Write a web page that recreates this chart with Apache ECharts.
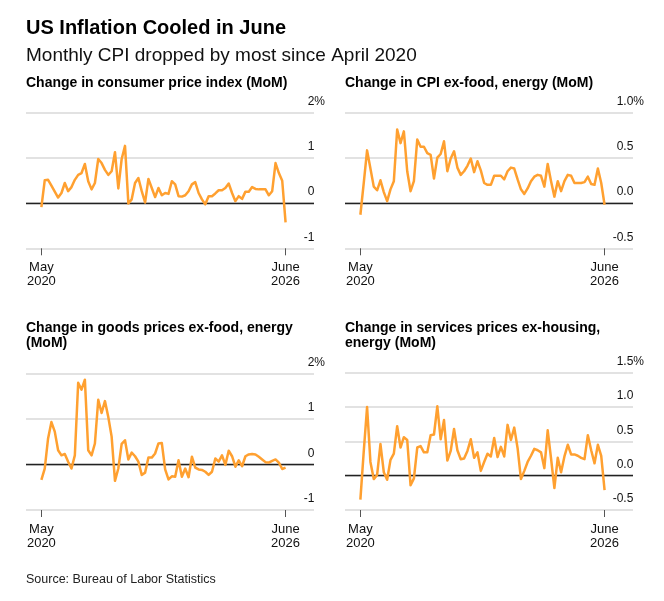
<!DOCTYPE html>
<html>
<head>
<meta charset="utf-8">
<script src="https://cdn.jsdelivr.net/npm/echarts@6/dist/echarts.min.js"></script>
<style>
html,body{margin:0;padding:0;background:#fff;}
#c{width:664px;height:601px;}
</style>
</head>
<body>
<div id="c"></div>
<script>
// Months (categories)
var months = [
 "2020-05","2020-06","2020-07","2020-08","2020-09","2020-10","2020-11","2020-12",
 "2021-01","2021-02","2021-03","2021-04","2021-05","2021-06","2021-07","2021-08","2021-09","2021-10","2021-11","2021-12",
 "2022-01","2022-02","2022-03","2022-04","2022-05","2022-06","2022-07","2022-08","2022-09","2022-10","2022-11","2022-12",
 "2023-01","2023-02","2023-03","2023-04","2023-05","2023-06","2023-07","2023-08","2023-09","2023-10","2023-11","2023-12",
 "2024-01","2024-02","2024-03","2024-04","2024-05","2024-06","2024-07","2024-08","2024-09","2024-10","2024-11","2024-12",
 "2025-01","2025-02","2025-03","2025-04","2025-05","2025-06","2025-07","2025-08","2025-09","2025-10","2025-11","2025-12",
 "2026-01","2026-02","2026-03","2026-04","2026-05","2026-06"
];
var xTickLabels = ["May\n2020", "June\n2026"];

// Change in consumer price index (MoM)
var cpi = [-0.09,0.50,0.51,0.38,0.25,0.12,0.22,0.44,0.26,0.35,
 0.51,0.62,0.66,0.86,0.48,0.30,0.44,0.97,0.88,0.73,
 0.62,0.70,1.12,0.32,0.97,1.26,-0.01,0.08,0.44,0.55,
 0.26,0.01,0.53,0.33,0.13,0.33,0.17,0.22,0.20,0.48,
 0.41,0.15,0.14,0.17,0.26,0.41,0.46,0.22,0.08,-0.03,
 0.15,0.15,0.21,0.28,0.28,0.33,0.43,0.22,0.04,0.15,
 0.09,0.25,0.25,0.35,0.31,0.30,0.30,0.30,0.17,0.26,
 0.88,0.66,0.49,-0.43];

// Change in CPI ex-food, energy (MoM)
var core = [-0.13,0.22,0.58,0.38,0.18,0.14,0.25,0.12,0.02,0.15,
 0.24,0.81,0.66,0.79,0.35,0.13,0.24,0.70,0.62,0.62,
 0.55,0.53,0.27,0.50,0.54,0.68,0.35,0.49,0.57,0.39,
 0.31,0.35,0.41,0.49,0.34,0.46,0.36,0.22,0.20,0.20,
 0.30,0.30,0.30,0.26,0.35,0.39,0.38,0.26,0.15,0.10,
 0.16,0.24,0.29,0.31,0.30,0.18,0.43,0.24,0.07,0.24,
 0.13,0.24,0.31,0.30,0.22,0.22,0.22,0.23,0.29,0.21,
 0.20,0.38,0.22,-0.02];

// Change in goods prices ex-food, energy (MoM)
var goods = [-0.34,-0.09,0.57,0.93,0.72,0.31,0.20,0.23,0.06,-0.09,
 0.20,1.79,1.64,1.86,0.31,0.20,0.46,1.42,1.13,1.39,
 1.04,0.61,-0.36,-0.09,0.45,0.53,0.11,0.26,0.18,0.06,
 -0.23,-0.18,0.15,0.15,0.24,0.46,0.47,-0.11,-0.33,-0.26,
 -0.27,0.09,-0.27,-0.09,-0.28,0.17,-0.07,-0.11,-0.12,-0.16,
 -0.23,-0.16,0.13,0.06,0.20,-0.01,0.30,0.18,-0.05,0.09,
 -0.04,0.18,0.22,0.23,0.22,0.17,0.11,0.05,0.04,0.08,
 0.11,0.04,-0.10,-0.07];

// Change in services prices ex-housing, energy (MoM)
var services = [-0.35,0.35,1.00,0.20,-0.05,0.01,0.46,0.05,-0.06,0.23,
 0.32,0.72,0.41,0.56,0.52,-0.14,-0.04,0.41,0.43,0.34,
 0.34,0.59,0.60,1.01,0.53,0.81,0.22,0.36,0.68,0.37,
 0.24,0.25,0.36,0.53,0.26,0.34,0.07,0.20,0.32,0.28,
 0.55,0.27,0.42,0.28,0.74,0.52,0.70,0.40,-0.05,0.07,
 0.20,0.29,0.39,0.37,0.34,0.11,0.66,0.25,-0.18,0.26,
 0.05,0.28,0.45,0.31,0.31,0.29,0.26,0.24,0.59,0.37,
 0.18,0.45,0.29,-0.21];

// Y tick labels
var yTicks1 = ["-1", "0", "1", "2"];
var yTicks2 = ["-0.5", "0.0", "0.5", "1.0"];
var yTicks3 = ["-1", "0", "1", "2"];
var yTicks4 = ["-0.5", "0.0", "0.5", "1.0", "1.5"];

var panelTitles = [
  "Change in consumer price index (MoM)",
  "Change in CPI ex-food, energy (MoM)",
  "Change in goods prices ex-food, energy\n(MoM)",
  "Change in services prices ex-housing,\nenergy (MoM)"
];

var FONT = "'Liberation Sans', Arial, Helvetica, sans-serif";
var LINE = '#ffa030';
var GRIDC = '#d9d9d9';

var panels = [
  {data: cpi, ticks: yTicks1, min: -1, max: 2, interval: 1, left: 26, top: 112.3, height: 136},
  {data: core, ticks: yTicks2, min: -0.5, max: 1, interval: 0.5, left: 345, top: 112.3, height: 136},
  {data: goods, ticks: yTicks3, min: -1, max: 2, interval: 1, left: 26, top: 373.3, height: 136.7},
  {data: services, ticks: yTicks4, min: -0.5, max: 1.5, interval: 0.5, left: 345, top: 372.7, height: 137.3}
];

var grids = [], xAxes = [], yAxes = [], series = [];
panels.forEach(function (p, k) {
  grids.push({left: p.left, top: p.top, width: 288, height: p.height, containLabel: false});
  xAxes.push({
    type: 'value', gridIndex: k, min: -4.6, max: 81.5, position: 'bottom',
    axisLine: {show: false, onZero: false},
    splitLine: {show: false},
    axisTick: {show: true, customValues: [0, months.length - 1], length: 7,
      lineStyle: {color: '#555', width: 1}},
    axisLabel: {
      show: true, customValues: [0, months.length - 1], margin: 12,
      fontFamily: FONT, fontSize: 13, lineHeight: 14, color: '#111',
      formatter: function (v) { return v === 0 ? xTickLabels[0] : xTickLabels[1]; }
    }
  });
  yAxes.push({
    type: 'value', gridIndex: k, position: 'right',
    min: p.min, max: p.max, interval: p.interval,
    axisLine: {show: false}, axisTick: {show: false},
    splitLine: {show: true, lineStyle: {color: GRIDC, width: 1.5}},
    axisLabel: {
      inside: false, align: 'right', verticalAlign: 'bottom', margin: 11,
      fontFamily: FONT, fontSize: 12, lineHeight: 22, color: '#111',
      formatter: function (v, idx) {
        var last = p.ticks.length - 1;
        return p.ticks[idx] + (idx === last ? '{p|%}' : '{h|%}');
      },
      rich: {
        p: {fontFamily: FONT, fontSize: 12, lineHeight: 22, color: '#111'},
        h: {fontFamily: FONT, fontSize: 12, lineHeight: 22, color: 'rgba(0,0,0,0)'}
      }
    }
  });
  series.push({
    type: 'line', xAxisIndex: k, yAxisIndex: k,
    data: p.data.map(function (v, i) { return [i, v]; }),
    showSymbol: false, symbol: 'none',
    lineStyle: {color: LINE, width: 2.5, join: 'round'},
    itemStyle: {color: LINE},
    z: 3,
    markLine: {
      silent: true, symbol: 'none', label: {show: false},
      lineStyle: {color: '#222', width: 1.3, type: 'solid'},
      data: [{yAxis: 0}], z: 2, animation: false
    }
  });
});

var titles = [
  {text: 'US Inflation Cooled in June', left: 26, top: 18, padding: 0,
   textStyle: {fontFamily: FONT, fontSize: 20, fontWeight: 'bold', lineHeight: 20, color: '#000'}},
  {text: 'Monthly CPI dropped by most since April 2020', left: 26, top: 46, padding: 0,
   textStyle: {fontFamily: FONT, fontSize: 19, fontWeight: 'normal', lineHeight: 19, color: '#111'}},
  {text: panelTitles[0], left: 26, top: 75.8, padding: 0,
   textStyle: {fontFamily: FONT, fontSize: 14, fontWeight: 'bold', lineHeight: 15, color: '#000'}},
  {text: panelTitles[1], left: 345, top: 75.8, padding: 0,
   textStyle: {fontFamily: FONT, fontSize: 14, fontWeight: 'bold', lineHeight: 15, color: '#000'}},
  {text: panelTitles[2], left: 26, top: 320.8, padding: 0,
   textStyle: {fontFamily: FONT, fontSize: 14, fontWeight: 'bold', lineHeight: 15, color: '#000'}},
  {text: panelTitles[3], left: 345, top: 320.8, padding: 0,
   textStyle: {fontFamily: FONT, fontSize: 14, fontWeight: 'bold', lineHeight: 15, color: '#000'}},
  {text: 'Source: Bureau of Labor Statistics', left: 26, top: 573.5, padding: 0,
   textStyle: {fontFamily: FONT, fontSize: 12.5, fontWeight: 'normal', lineHeight: 13, color: '#222'}}
];

var chart = echarts.init(document.getElementById('c'), null, {renderer: 'canvas'});
chart.setOption({
  backgroundColor: '#fff',
  animation: false,
  title: titles,
  grid: grids,
  xAxis: xAxes,
  yAxis: yAxes,
  series: series
});
</script>
</body>
</html>
